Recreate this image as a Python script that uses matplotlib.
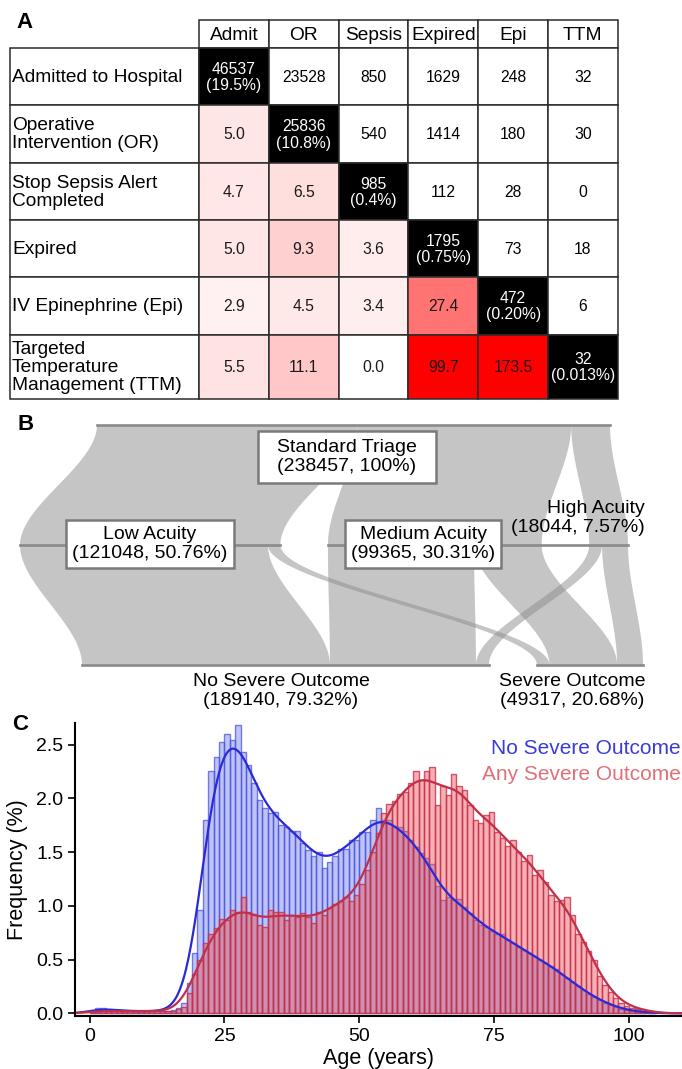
import numpy as np
import matplotlib
matplotlib.use('Agg')
import matplotlib.pyplot as plt
from matplotlib.patches import Rectangle
from matplotlib.colors import LinearSegmentedColormap, Normalize, to_rgba

plt.rcParams['font.family'] = ['Liberation Sans', 'DejaVu Sans']

# ---------------- panel A: co-occurrence table ----------------
col_names = ['Admit', 'OR', 'Sepsis', 'Expired', 'Epi', 'TTM']
row_names = ['Admitted to Hospital', 'Operative\nIntervention (OR)',
             'Stop Sepsis Alert\nCompleted', 'Expired', 'IV Epinephrine (Epi)',
             'Targeted\nTemperature\nManagement (TTM)']
diag_counts = [46537, 25836, 985, 1795, 472, 32]
diag_pct = ['19.5%', '10.8%', '0.4%', '0.75%', '0.20%', '0.013%']
# upper triangle: number of patients with both events
pair_counts = [[23528, 850, 1629, 248, 32],
               [540, 1414, 180, 30],
               [112, 28, 0],
               [73, 18],
               [6]]
# lower triangle: relative ratios
pair_ratio = [[],
              [5.0],
              [4.7, 6.5],
              [5.0, 9.3, 3.6],
              [2.9, 4.5, 3.4, 27.4],
              [5.5, 11.1, 0.0, 99.7, 173.5]]

# ---------------- panel B: alluvial flows ----------------
triage_name = 'Standard Triage'
triage_total = 238457
acuity_names = ['Low Acuity', 'Medium Acuity', 'High Acuity']
acuity_counts = [121048, 99365, 18044]
acuity_pct = ['50.76%', '30.31%', '7.57%']
outcome_names = ['No Severe Outcome', 'Severe Outcome']
outcome_counts = [189140, 49317]
outcome_pct = ['79.32%', '20.68%']
acuity_to_no_severe = [115248, 67892, 6000]
acuity_to_severe = [5800, 31473, 12044]

# ---------------- panel C: age histogram (% per 1-year bin) ----------------
age_bins = np.arange(0, 105)
no_severe_freq = [0.03, 0.05, 0.05, 0.04, 0.03, 0.03, 0.02, 0.02, 0.02, 0.02,
                  0.02, 0.02, 0.02, 0.02, 0.02, 0.03, 0.05, 0.10, 0.28, 0.56,
                  0.96, 1.80, 2.25, 2.38, 2.52, 2.60, 2.54, 2.68, 2.43, 2.31,
                  2.14, 1.98, 1.91, 1.86, 1.87, 1.75, 1.73, 1.70, 1.70, 1.58,
                  1.52, 1.46, 1.50, 1.35, 1.41, 1.46, 1.53, 1.53, 1.61, 1.61,
                  1.69, 1.69, 1.80, 1.91, 1.80, 1.80, 1.73, 1.73, 1.70, 1.61,
                  1.55, 1.49, 1.44, 1.39, 1.18, 1.05, 1.08, 1.05, 1.06, 0.99,
                  0.93, 0.87, 0.82, 0.80, 0.77, 0.74, 0.74, 0.68, 0.65, 0.62,
                  0.59, 0.56, 0.53, 0.50, 0.47, 0.44, 0.41, 0.37, 0.33, 0.29,
                  0.25, 0.22, 0.18, 0.15, 0.12, 0.10, 0.08, 0.06, 0.04, 0.03,
                  0.02, 0.015, 0.01, 0.01, 0.005]
severe_freq = [0.02, 0.03, 0.02, 0.02, 0.02, 0.02, 0.02, 0.02, 0.02, 0.02,
               0.02, 0.02, 0.02, 0.02, 0.02, 0.02, 0.04, 0.06, 0.19, 0.37,
               0.50, 0.65, 0.74, 0.79, 0.88, 0.87, 0.96, 0.94, 1.08, 0.94,
               0.91, 0.82, 0.80, 0.96, 0.94, 0.94, 0.87, 0.91, 0.90, 0.93,
               0.90, 0.84, 0.94, 0.91, 0.98, 1.02, 1.04, 1.08, 1.04, 1.10,
               1.20, 1.33, 1.50, 1.68, 1.86, 1.95, 1.97, 2.04, 2.06, 2.14,
               2.25, 2.17, 2.25, 2.29, 1.94, 2.11, 2.03, 2.23, 2.11, 2.08,
               1.94, 1.80, 1.77, 1.84, 1.87, 1.69, 1.63, 1.56, 1.61, 1.50,
               1.42, 1.47, 1.29, 1.33, 1.22, 1.10, 1.04, 1.05, 1.08, 0.91,
               0.74, 0.66, 0.58, 0.50, 0.35, 0.26, 0.20, 0.14, 0.10, 0.07,
               0.05, 0.04, 0.04, 0.02, 0.01]

W, H = 682, 1069
fig = plt.figure(figsize=(W / 100, H / 100), dpi=100)


def px_axes(x0, y0, x1, y1):
    ax = fig.add_axes([x0 / W, 1 - y1 / H, (x1 - x0) / W, (y1 - y0) / H])
    ax.set_xlim(x0, x1)
    ax.set_ylim(y1, y0)
    ax.axis('off')
    return ax


# ================= A =================
ax_a = px_axes(0, 0, 682, 400)
grid_col = '#2b2b2b'
lab_x0, tab_x0, cell_w = 10, 199, 69.8
head_y0, head_h = 20, 28
row_h = [57.3] * 5 + [64]
row_top = head_y0 + head_h + np.concatenate([[0], np.cumsum(row_h)[:-1]])
cmap = LinearSegmentedColormap.from_list('wr', ['#ffffff', '#ff0000'])
norm = Normalize(0, 50, clip=True)

for j, name in enumerate(col_names):
    x = tab_x0 + j * cell_w
    ax_a.add_patch(Rectangle((x, head_y0), cell_w, head_h, fc='white', ec=grid_col, lw=1.1))
    ax_a.text(x + cell_w / 2, head_y0 + head_h / 2 + 1, name, ha='center', va='center', fontsize=13.8)

for i, name in enumerate(row_names):
    y, h = row_top[i], row_h[i]
    ax_a.add_patch(Rectangle((lab_x0, y), tab_x0 - lab_x0, h, fc='white', ec=grid_col, lw=1.1))
    ax_a.text(lab_x0 + 2, y + h / 2 + 1, name, ha='left', va='center', fontsize=13.8, linespacing=1.08)
    for j in range(len(col_names)):
        x = tab_x0 + j * cell_w
        if i == j:
            fc, tc = 'black', 'white'
            label = '{}\n({})'.format(diag_counts[i], diag_pct[i])
        elif j > i:
            fc, tc = 'white', 'black'
            label = str(pair_counts[i][j - i - 1])
        else:
            val = pair_ratio[i][j]
            fc, tc = cmap(norm(val)), '#1a1a1a'
            label = '{:.1f}'.format(val)
        ax_a.add_patch(Rectangle((x, y), cell_w, h, fc=fc, ec=grid_col, lw=1.1))
        ax_a.text(x + cell_w / 2, y + h / 2 + 1, label, ha='center', va='center',
                  fontsize=11.3, color=tc, linespacing=1.1)

# ================= B =================
ax_b = px_axes(0, 400, 682, 712)
sc = 513.0 / triage_total
y_top, y_mid, y_bot = 425, 545, 665
top_x0, mid_x0, bot_x0 = 97, 20, 82
gap_mid, gap_bot = 47.5, 48
flow_col = to_rgba('#8c8c8c', 0.5)
line_col = '#8a8a8a'


def ribbon(xa0, xa1, ya, xb0, xb1, yb):
    t = np.linspace(0, 1, 80)
    s = 3 * t ** 2 - 2 * t ** 3
    yy = ya + (yb - ya) * t
    left = xa0 + (xb0 - xa0) * s
    right = xa1 + (xb1 - xa1) * s
    ax_b.fill(np.concatenate([left, right[::-1]]), np.concatenate([yy, yy[::-1]]),
              fc=flow_col, ec='none', lw=0, zorder=1)


acuity_w = np.array(acuity_counts) * sc
mid_start = mid_x0 + np.concatenate([[0], np.cumsum(acuity_w)[:-1]]) + gap_mid * np.arange(3)
outcome_w = np.array(outcome_counts) * sc
bot_start = bot_x0 + np.concatenate([[0], np.cumsum(outcome_w)[:-1]]) + gap_bot * np.arange(2)

# triage -> acuity
pos = top_x0
for k in range(3):
    ribbon(pos, pos + acuity_w[k], y_top, mid_start[k], mid_start[k] + acuity_w[k], y_mid)
    pos += acuity_w[k]

# acuity -> outcome
bot_pos = list(bot_start)
for k in range(3):
    mpos = mid_start[k]
    for o, cnt in enumerate([acuity_to_no_severe[k], acuity_to_severe[k]]):
        w = cnt * sc
        ribbon(mpos, mpos + w, y_mid, bot_pos[o], bot_pos[o] + w, y_bot)
        mpos += w
        bot_pos[o] += w

ax_b.plot([top_x0, top_x0 + triage_total * sc], [y_top, y_top], color=line_col, lw=1.9, zorder=3)
ax_b.plot([mid_start[0], mid_start[0] + acuity_w[0]], [y_mid, y_mid], color=line_col, lw=1.9, zorder=3)
ax_b.plot([mid_start[1], mid_start[2] + acuity_w[2]], [y_mid, y_mid], color=line_col, lw=1.9, zorder=3)
for o in range(2):
    ax_b.plot([bot_start[o], bot_start[o] + outcome_w[o]], [y_bot, y_bot], color=line_col, lw=1.9, zorder=3)

box = dict(boxstyle='square,pad=0.3', fc='white', ec='#7a7a7a', lw=1.8)
ax_b.text(347, 457, '{}\n({}, 100%)'.format(triage_name, triage_total), ha='center', va='center',
          fontsize=14, zorder=4, linespacing=1.15,
          bbox=dict(boxstyle='square,pad=1.0', fc='white', ec='#7a7a7a', lw=1.8, mutation_aspect=0.4))
ax_b.text(150, 544, '{}\n({}, {})'.format(acuity_names[0], acuity_counts[0], acuity_pct[0]),
          ha='center', va='center', fontsize=14, zorder=4, linespacing=1.15, bbox=box)
ax_b.text(423, 544, '{}\n({}, {})'.format(acuity_names[1], acuity_counts[1], acuity_pct[1]),
          ha='center', va='center', fontsize=14, zorder=4, linespacing=1.15, bbox=box)
ax_b.text(645, 518, '{}\n({}, {})'.format(acuity_names[2], acuity_counts[2], acuity_pct[2]),
          ha='right', va='center', fontsize=14, zorder=4, linespacing=1.15, multialignment='right')
for o, xc in enumerate([281, 572]):
    ax_b.text(xc, 691, '{}\n({}, {})'.format(outcome_names[o], outcome_counts[o], outcome_pct[o]),
              ha='center', va='center', fontsize=14, zorder=4, linespacing=1.15)

# ================= C =================
ax_c = fig.add_axes([75 / W, 1 - 1016 / H, 607 / W, 293 / H])
blue, red = '#4a55e0', '#e8505a'
ax_c.bar(age_bins, no_severe_freq, width=1, align='edge', facecolor=to_rgba(blue, 0.35),
         edgecolor=to_rgba(blue, 0.75), linewidth=1.0)
ax_c.bar(age_bins, severe_freq, width=1, align='edge', facecolor=to_rgba(red, 0.45),
         edgecolor=to_rgba('#c83048', 0.8), linewidth=1.0)

grid = np.linspace(-2.7, 110, 800)
centres = age_bins + 0.5


def smooth(freq, bw=2.3):
    k = np.exp(-0.5 * ((grid[:, None] - centres[None, :]) / bw) ** 2) / (bw * np.sqrt(2 * np.pi))
    return k @ np.asarray(freq)


ax_c.plot(grid, smooth(no_severe_freq), color='#2a2ad6', lw=1.6)
ax_c.plot(grid, smooth(severe_freq), color='#c0304a', lw=1.6)

ax_c.set_xlim(-2.7, 109.8)
ax_c.set_ylim(-0.025, 2.70)
ax_c.set_xticks([0, 25, 50, 75, 100])
ax_c.set_yticks([0, 0.5, 1.0, 1.5, 2.0, 2.5])
ax_c.set_yticklabels(['{:.1f}'.format(v) for v in [0, 0.5, 1.0, 1.5, 2.0, 2.5]])
ax_c.tick_params(labelsize=14, length=5, width=1.2)
for side in ['top', 'right']:
    ax_c.spines[side].set_visible(False)
for side in ['left', 'bottom']:
    ax_c.spines[side].set_linewidth(1.5)
ax_c.set_xlabel('Age (years)', fontsize=15.5, labelpad=2)
ax_c.set_ylabel('Frequency (%)', fontsize=15.5, labelpad=6)

fig.text(681 / W, 1 - 748 / H, 'No Severe Outcome', color='#3b3bdb', ha='right', va='center', fontsize=15)
fig.text(681 / W, 1 - 775 / H, 'Any Severe Outcome', color='#e07078', ha='right', va='center', fontsize=15)

for letter, (x, y) in zip('ABC', [(24, 22), (26, 425), (20, 725)]):
    fig.text(x / W, 1 - y / H, letter, fontsize=16, fontweight='bold', ha='center', va='center')

fig.savefig('out.png', dpi=100)
